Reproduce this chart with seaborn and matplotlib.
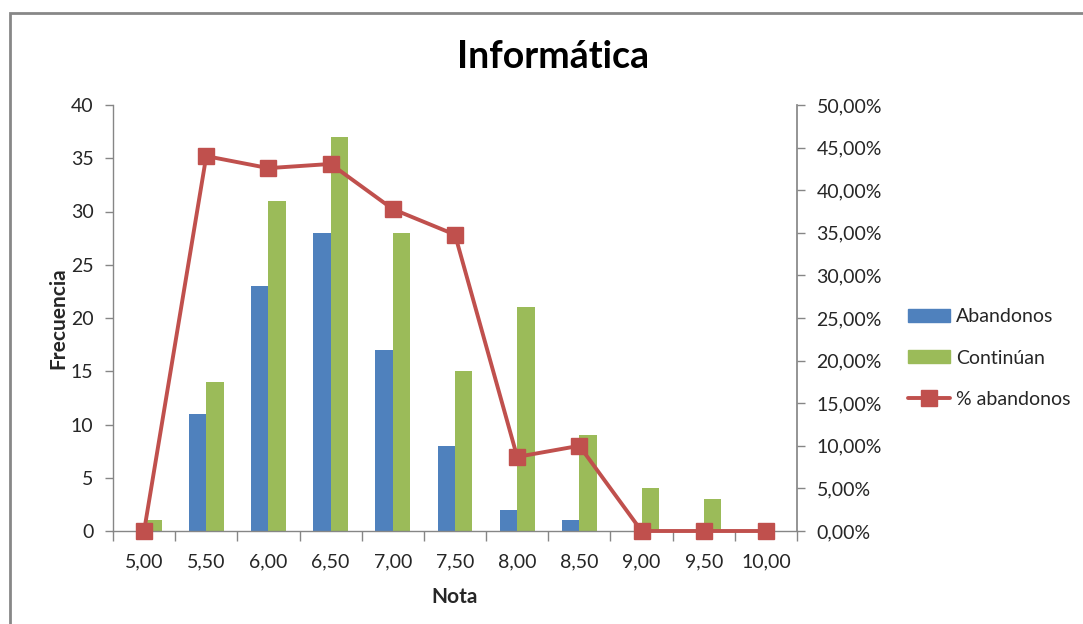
import matplotlib
matplotlib.use("Agg")
import matplotlib.pyplot as plt
import seaborn as sns
import pandas as pd
import numpy as np
from matplotlib.ticker import FuncFormatter, FixedLocator
from matplotlib.patches import Rectangle
from matplotlib.lines import Line2D
from matplotlib.patches import Patch

notas = ["5,00", "5,50", "6,00", "6,50", "7,00", "7,50", "8,00", "8,50", "9,00", "9,50", "10,00"]
abandonos = [0, 11, 23, 28, 17, 8, 2, 1, 0, 0, 0]
continuan = [1, 14, 31, 37, 28, 15, 21, 9, 4, 3, 0]
pct_abandonos = [0.0, 44.00, 42.59, 43.08, 37.78, 34.78, 8.70, 10.00, 0.0, 0.0, 0.0]

BLUE = "#4F81BD"
GREEN = "#9BBB59"
RED = "#C0504D"
AXC = "#868686"
TXT = "#262626"

sns.set_theme(style="white")
plt.rcParams["font.family"] = ["Lato", "DejaVu Sans"]

df = pd.DataFrame({
    "Nota": notas * 2,
    "Frecuencia": abandonos + continuan,
    "Serie": ["Abandonos"] * len(notas) + ["Continúan"] * len(notas),
})

fig = plt.figure(figsize=(10.83, 6.24), dpi=100)
ax = fig.add_axes([113 / 1083, 1 - 531 / 624, (797 - 113) / 1083, (531 - 105) / 624])

sns.barplot(data=df, x="Nota", y="Frecuencia", hue="Serie", order=notas,
            hue_order=["Abandonos", "Continúan"], palette=[BLUE, GREEN],
            width=0.56, saturation=1, linewidth=0, ax=ax, legend=False)

ax.set_xlim(-0.5, len(notas) - 0.5)
ax.set_ylim(0, 40)
ax.set_yticks(range(0, 41, 5))
ax.set_xticks(range(len(notas)))
ax.set_xticklabels(notas)
ax.xaxis.set_minor_locator(FixedLocator(np.arange(-0.5, len(notas), 1.0)))
ax.tick_params(axis="x", which="major", length=0, labelsize=14, pad=16, colors=TXT)
ax.tick_params(axis="x", which="minor", length=7, width=1, color=AXC, direction="out", bottom=True)
ax.tick_params(axis="y", which="major", length=6, width=1, color=AXC, direction="out",
               left=True, labelsize=14, pad=8, labelcolor=TXT)
for s in ["top", "right"]:
    ax.spines[s].set_visible(False)
for s in ["left", "bottom"]:
    ax.spines[s].set_color(AXC)
    ax.spines[s].set_linewidth(1)
ax.set_xlabel("Nota", fontsize=15, fontweight="bold", labelpad=12)
ax.set_ylabel("Frecuencia", fontsize=15, fontweight="bold", labelpad=2)

ax2 = ax.twinx()
ax2.plot(range(len(notas)), pct_abandonos, color=RED, linewidth=2.8, marker="s",
         markersize=12, markerfacecolor=RED, markeredgecolor=RED, zorder=5, clip_on=False)
ax2.set_ylim(0, 50)
ax2.set_yticks(np.arange(0, 50.1, 5))
ax2.yaxis.set_major_formatter(FuncFormatter(lambda v, p: f"{v:.2f}%".replace(".", ",")))
ax2.tick_params(axis="y", length=6, width=1, color=AXC, direction="out", right=True,
                labelsize=14, pad=8, labelcolor=TXT)
for s in ["top", "left", "bottom"]:
    ax2.spines[s].set_visible(False)
ax2.spines["right"].set_color(AXC)
ax2.grid(False)
ax.grid(False)

fig.text(553 / 1083, 1 - 57 / 624, "Informática", ha="center", va="center",
         fontsize=27, fontweight="bold", color="black")

handles = [
    Patch(facecolor=BLUE, edgecolor=BLUE, label="Abandonos"),
    Patch(facecolor=GREEN, edgecolor=GREEN, label="Continúan"),
    Line2D([0], [0], color=RED, linewidth=2.8, marker="s", markersize=12, label="% abandonos"),
]
fig.legend(handles=handles, loc="center left", bbox_to_anchor=(890 / 1083, 1 - 358 / 624),
           frameon=False, fontsize=14, handlelength=2.2, handleheight=0.6,
           labelspacing=1.25, handletextpad=0.3, labelcolor=TXT)

fig.patches.append(Rectangle((10 / 1083, -0.05), 1.2, 1 - 13 / 624 + 0.05,
                             transform=fig.transFigure, fill=False,
                             edgecolor="#878787", linewidth=2, zorder=10))

fig.savefig("out.png", dpi=100)
